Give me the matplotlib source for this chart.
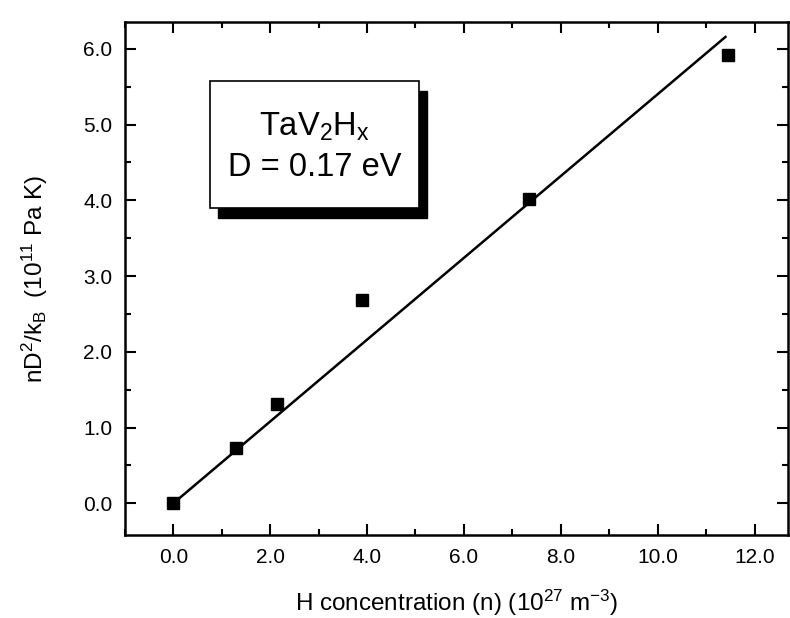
import matplotlib
matplotlib.use('Agg')
import matplotlib.pyplot as plt
import numpy as np
from matplotlib.ticker import MultipleLocator

plt.rcParams['font.family'] = ['Liberation Sans', 'DejaVu Sans']
plt.rcParams['mathtext.fontset'] = 'custom'
plt.rcParams['mathtext.rm'] = 'Liberation Sans'
plt.rcParams['mathtext.it'] = 'Liberation Sans'

# H concentration (10^27 m^-3) vs nD^2/kB (10^11 Pa K)
conc = [0.0, 1.3, 2.15, 3.9, 7.35, 11.45]
nd2kb = [0.0, 0.73, 1.31, 2.69, 4.02, 5.92]
fit_x = [0.0, 11.4]
slope = 0.54

fig = plt.figure(figsize=(7.9, 6.18), dpi=100)
ax = fig.add_axes([0.158, 0.134, 0.84, 0.83])

fx = np.array(fit_x)
ax.plot(fx, slope * fx, color='black', lw=1.8)
ax.plot(conc, nd2kb, 's', color='black', ms=9)

ax.set_xlim(-1.0, 12.7)
ax.set_ylim(-0.42, 6.35)
ax.xaxis.set_major_locator(MultipleLocator(2.0))
ax.xaxis.set_minor_locator(MultipleLocator(1.0))
ax.yaxis.set_major_locator(MultipleLocator(1.0))
ax.yaxis.set_minor_locator(MultipleLocator(0.5))
ax.xaxis.set_major_formatter(plt.FormatStrFormatter('%.1f'))
ax.yaxis.set_major_formatter(plt.FormatStrFormatter('%.1f'))
ax.tick_params(which='both', direction='in', top=True, right=True, width=1.5)
ax.tick_params(which='major', length=8, labelsize=15, pad=9)
ax.tick_params(which='minor', length=4)
for s in ax.spines.values():
    s.set_linewidth(1.8)

ax.set_xlabel('H concentration (n) (10$^{27}$ m$^{-3}$)', fontsize=17.5, labelpad=15)
ax.set_ylabel('nD$^{2}$/k$_{B}$  (10$^{11}$ Pa K)', fontsize=17.5, labelpad=24)

# text box with shadow
bx, by, bw, bh = 0.128, 0.638, 0.315, 0.247
ax.add_patch(plt.Rectangle((bx + 0.013, by - 0.02), bw, bh, transform=ax.transAxes,
                           facecolor='black', edgecolor='black', zorder=3))
ax.add_patch(plt.Rectangle((bx, by), bw, bh, transform=ax.transAxes,
                           facecolor='white', edgecolor='black', lw=1.2, zorder=4))
ax.text(bx + bw / 2, by + bh * 0.64, 'TaV$_{2}$H$_{x}$', transform=ax.transAxes,
        ha='center', va='center', fontsize=23.5, zorder=5)
ax.text(bx + bw / 2, by + bh * 0.32, 'D = 0.17 eV', transform=ax.transAxes,
        ha='center', va='center', fontsize=23.5, zorder=5)

fig.savefig('out.png', dpi=100)
